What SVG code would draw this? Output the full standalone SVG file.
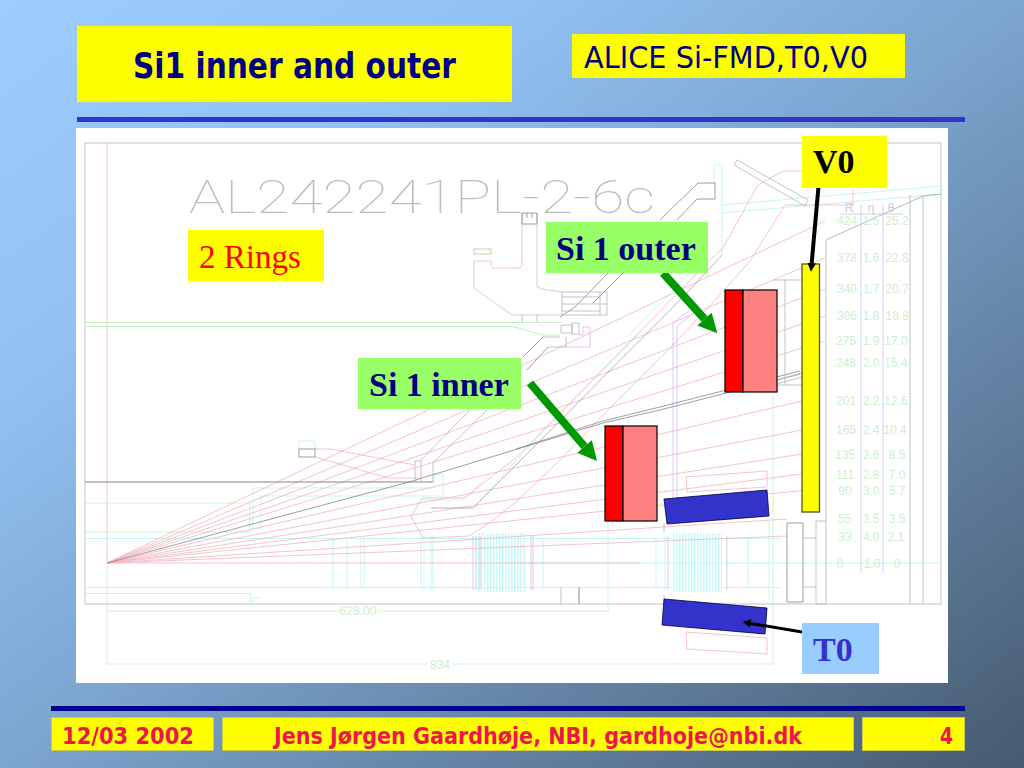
<svg xmlns="http://www.w3.org/2000/svg" width="1024" height="768" viewBox="0 0 1024 768">
<style>
.cad{fill:none;stroke-width:.8}
.p{stroke:#f2b4bd}.m{stroke:#e6b0e6}.c{stroke:#b8f2f4}.g{stroke:#c4f2c0}.k{stroke:#b4b4bc}.d{stroke:#85858d}.l{stroke:#c4c4e8}
.tb{font-family:"Liberation Sans",Arial,sans-serif;font-size:12px;fill:#cfeed0;text-anchor:middle}
.lab{font-family:"Liberation Serif","Times New Roman",serif;font-size:34px;font-weight:bold}
.foot{font-family:"DejaVu Sans",sans-serif;font-size:23px;font-weight:bold;fill:#f0144c}
.pb{fill:#ffff00;stroke:#c8c84a;stroke-width:1}
</style>
<defs>
<linearGradient id="bg" x1="0" y1="0" x2="1" y2="1">
<stop offset="0" stop-color="#9ccdfd"/><stop offset=".25" stop-color="#92c2f4"/><stop offset=".5" stop-color="#7ca5cf"/><stop offset="1" stop-color="#475a70"/>
</linearGradient>
<marker id="ag" viewBox="0 0 10 10" refX="0" refY="5" markerWidth="2.4" markerHeight="2.9" orient="auto"><path d="M0,0L10,5L0,10z" fill="#009900"/></marker>
<marker id="ak" viewBox="0 0 10 10" refX="0" refY="5" markerWidth="2.2" markerHeight="2.4" orient="auto"><path d="M0,0L10,5L0,10z" fill="#000"/></marker>
<marker id="ak3" viewBox="0 0 10 10" refX="0" refY="5" markerWidth="2.8" markerHeight="2.8" orient="auto"><path d="M0,0L10,5L0,10z" fill="#000"/></marker>
</defs>
<rect width="1024" height="768" fill="url(#bg)"/>
<g id="header">
<rect x="77" y="26" width="435" height="76" fill="#ffff00"/>
<text x="133" y="78" font-family="'DejaVu Sans',sans-serif" font-size="35" font-weight="bold" fill="#000080" textLength="323" lengthAdjust="spacingAndGlyphs">Si1 inner and outer</text>
<rect x="572" y="34" width="333" height="44" fill="#ffff00"/>
<text x="584" y="68" font-family="'DejaVu Sans',sans-serif" font-size="31" fill="#000080" textLength="284" lengthAdjust="spacingAndGlyphs">ALICE Si-FMD,T0,V0</text>
<rect x="77" y="117" width="888" height="5" fill="#3333cc"/>
</g>
<rect x="76" y="128" width="872" height="555" fill="#ffffff"/>
<g id="cad" class="cad">
<rect x="85" y="143" width="856" height="461" class="k"/>
<text x="189" y="213" font-family="Roboto,'Liberation Sans',sans-serif" font-weight="100" font-size="46" fill="#bdbdbd" stroke="none" textLength="466" lengthAdjust="spacingAndGlyphs">AL242241PL-2-6c</text>
<path class="p" d="M107,143V563"/>
<path class="g" d="M107,563V664M107,611H609M608,522V611M107,664H773M773,395V664"/>
<path class="g" stroke-width="1.2" d="M85,322.500H562M85,326.500H513L543,335H560"/>
<path class="g" d="M85,503H250V532H85M85,593.500H250V604"/>
<path class="c" d="M252,604V598H261M253,529V488H434V474M261,529V496H443V474H433M253,529H261"/>
<path class="c" d="M85,538.500H672M85,587.500H672M722,538.500H780M722,587.500H780M500,563H940"/>
<path class="c" d="M333,538V589M347,538V589M361,538V589M364,538V588M421,535V591M424,535V591M431,535V591M433,535V591M543,538V588M656,538V588M665,535V590M748,538V588M769,520V600"/>
<path class="c" d="M299,449V441H315V449M422,500H464L490,474"/>
<path stroke="#c6fbfb" stroke-width="59" stroke-dasharray="1.500 1.500" d="M478,562.500H526M673,562.500H722"/>
<path class="l" d="M473,536V590M476,536V590M531,536V590M668,536V590M727,536V590M673,323V498M677,326V498M673,323L683,315L690,310M677,326L690,316"/>
<path class="m" d="M480,536V590M533,536V590"/>
<path class="c" d="M640,333L547,427L480,500M627,337L690,273M714,184V165H722V213M722,213V255"/>
<path class="c" d="M722,205L942,186V194L722,213"/>
<g id="rays" class="p">
<path d="M107,563L825,221M107,563L825,258M107,563L825,289M107,563L825,316M107,563L825,341M107,563L802,401M107,563L802,430M107,563L802,454M107,563L802,474M107,563L802,490.500M107,563L787,519M107,563L787,536M107,563H640"/>
<path d="M802,171H783L758,185L723,248L710,260L516,458L464,498H422L411,517L423,538L469,536L489,523L516,502L560,460L610,408L673,345L717,298L750,261L785,205H853"/>
<path d="M315,449H330L415,465M315,457L388,478H421"/>
<path d="M686,477L767,471V487L687,492ZM686,632L767,638V654L687,649Z"/>
</g>
<path class="d" d="M107,563L409,482L603,423L660,410L800,374M516,449L603,421L660,407L800,371"/>
<path class="d" stroke-width="1.200" d="M85,482H433"/>
<path class="k" d="M421,482V460L470,410M433,482V463L487,410M415,482V461H421"/>
<path class="d" d="M698,183L660,220M698,183H715V199H697L677,220M608,273L575,307L560,317M623,273L593,303M543,337L523,357M548,347L527,370"/>
<path class="d" stroke-width=".6" d="M722,255L683,297L516,465L473,508H431"/>
<rect x="299" y="449" width="16" height="8" class="d"/>
<path class="k" d="M737,160L734,165L805,206L808,200Z"/>
<path class="p" d="M853,190V205"/>
<path class="m" d="M474,261H491V265L493,268H520L522,265V213M537,213V287L542,289L562,292M474,261V288L512,315H562"/>
<rect x="474" y="249" width="17" height="5" stroke="#c8b890"/>
<path class="d" d="M522,213H537V224H522ZM527,213V218M532,213V218"/>
<path class="k" d="M562,292H607V315H562ZM562,297H600M562,304H600M562,311H600M600,292V315M600,304H607M522,315V322M537,315V322"/>
<path class="k" d="M561,325H572V333H561ZM572,323H579V334H572ZM543,337H560M548,347H566V337"/>
<path class="m" d="M583,327H590V347H566M583,327V335H579"/>
<path class="k" d="M773,280H785V385H773M785,280H802M785,385H802M777,380L802,373M777,384L802,377"/>
<path class="d" d="M787,523H803V602H787Z"/>
<path class="k" d="M803,538H816M803,587H816M816,521H826M816,604H826M816,521V604M826,240V604M910,195V604M923,196V604"/>
<path class="d" stroke-width=".6" d="M826,240L923,196L941,194"/>
<path class="l" d="M840,214H903M861,205V572M883,205V572"/>
<path class="k" d="M561,587V604"/><path class="k" stroke-width="1.600" d="M579,587V604"/>
<path class="k" d="M664,523V532M664,595V599"/>
</g>
<g id="table">
<text class="tb" x="849" y="212" style="fill:#c8c8f0">R</text><text class="tb" x="871" y="212" style="fill:#c8c8f0">η</text><text class="tb" x="891" y="212" style="fill:#c8c8f0">θ</text>
<text class="tb" x="847" y="225">424</text><text class="tb" x="871" y="225">1.5</text><text class="tb" x="897" y="225">25.2</text>
<text class="tb" x="847" y="262">378</text><text class="tb" x="871" y="262">1.6</text><text class="tb" x="897" y="262">22.8</text>
<text class="tb" x="847" y="293">340</text><text class="tb" x="871" y="293">1.7</text><text class="tb" x="897" y="293">20.7</text>
<text class="tb" x="847" y="320">306</text><text class="tb" x="871" y="320">1.8</text><text class="tb" x="897" y="320">18.8</text>
<text class="tb" x="846" y="345">275</text><text class="tb" x="871" y="345">1.9</text><text class="tb" x="896" y="345">17.0</text>
<text class="tb" x="846" y="367">248</text><text class="tb" x="871" y="367">2.0</text><text class="tb" x="896" y="367">15.4</text>
<text class="tb" x="846" y="405">201</text><text class="tb" x="871" y="405">2.2</text><text class="tb" x="896" y="405">12.6</text>
<text class="tb" x="846" y="434">165</text><text class="tb" x="871" y="434">2.4</text><text class="tb" x="895" y="434">10.4</text>
<text class="tb" x="845" y="459">135</text><text class="tb" x="871" y="459">2.6</text><text class="tb" x="897" y="459">8.5</text>
<text class="tb" x="845" y="479">111</text><text class="tb" x="871" y="479">2.8</text><text class="tb" x="897" y="479">7.0</text>
<text class="tb" x="845" y="495">90</text><text class="tb" x="871" y="495">3.0</text><text class="tb" x="897" y="495">5.7</text>
<text class="tb" x="845" y="523">55</text><text class="tb" x="871" y="523">3.5</text><text class="tb" x="897" y="523">3.5</text>
<text class="tb" x="845" y="541">33</text><text class="tb" x="871" y="541">4.0</text><text class="tb" x="896" y="541">2.1</text>
<text class="tb" x="840" y="568">0</text><text class="tb" x="872" y="568">1.0</text><text class="tb" x="897" y="568">0</text>
<rect x="340" y="606" width="38" height="10" fill="#fff"/><text class="tb" x="358" y="615">628.00</text>
<rect x="428" y="659" width="24" height="10" fill="#fff"/><text class="tb" x="440" y="669">834</text>
</g>
<g id="si1-outer-detector" stroke="#000" stroke-width="1.200">
<rect x="725" y="290" width="18" height="102" fill="#ff0000"/>
<rect x="743" y="290" width="34" height="102" fill="#ff8080"/>
</g>
<g id="si1-inner-detector" stroke="#000" stroke-width="1.200">
<rect x="605" y="426" width="18" height="95" fill="#ff0000"/>
<rect x="623" y="426" width="34" height="95" fill="#ff8080"/>
</g>
<g id="v0-detector"><rect x="802" y="264" width="17.500" height="248" fill="#ffff00" stroke="#55550a" stroke-width="1.300"/></g>
<g id="t0-detector" fill="#3333cc" stroke="#000040" stroke-width=".8">
<path d="M664,499L767,490L769,516L667,524Z"/>
<path d="M664,599L767,608L765,634L662,625Z"/>
</g>
<g id="connectors" fill="none">
<path d="M663,273L704.500,319" stroke="#009900" stroke-width="8" marker-end="url(#ag)"/>
<path d="M530,383L584.500,446.500" stroke="#009900" stroke-width="8" marker-end="url(#ag)"/>
<path d="M819,181L811.700,263" stroke="#000" stroke-width="4" marker-end="url(#ak)"/>
<path d="M802,632L751,623.500" stroke="#000" stroke-width="3" marker-end="url(#ak3)"/>
</g>
<g id="label-2-rings"><rect x="188" y="230" width="136" height="51" fill="#ffff00"/><text x="199" y="268" font-family="'Liberation Serif',serif" font-size="33" fill="#ff0000">2 Rings</text></g>
<g id="label-si1-outer"><rect x="546" y="222" width="162" height="51" fill="#99ff66"/><text class="lab" x="556" y="260" fill="#000080">Si 1 outer</text></g>
<g id="label-si1-inner"><rect x="358" y="358" width="163" height="51" fill="#99ff66"/><text class="lab" x="369" y="396" fill="#000080">Si 1 inner</text></g>
<g id="label-v0"><rect x="802" y="136" width="85" height="52" fill="#ffff00"/><text class="lab" x="813" y="173" fill="#000000">V0</text></g>
<g id="label-t0"><rect x="802" y="623" width="77" height="51" fill="#99ccff"/><text class="lab" x="813" y="661" fill="#3333cc">T0</text></g>
<g id="footer">
<rect x="51" y="706" width="914" height="5" fill="#000090"/>
<rect class="pb" x="51.500" y="717.500" width="162" height="33"/>
<text class="foot" x="62" y="744" textLength="132" lengthAdjust="spacingAndGlyphs">12/03 2002</text>
<rect class="pb" x="222.500" y="717.500" width="631" height="33"/>
<text class="foot" x="274" y="744" textLength="528" lengthAdjust="spacingAndGlyphs">Jens Jørgen Gaardhøje, NBI, gardhoje@nbi.dk</text>
<rect class="pb" x="862.500" y="717.500" width="102" height="33"/>
<text class="foot" x="940" y="744" textLength="13" lengthAdjust="spacingAndGlyphs">4</text>
</g>
</svg>
